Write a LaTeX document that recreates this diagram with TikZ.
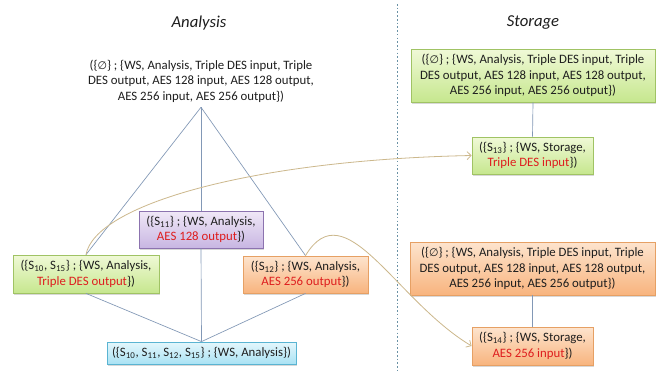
\documentclass[tikz,border=0pt]{standalone}
\usepackage{fontspec}
\setmainfont{Carlito}
\newfontfamily\symfnt{DejaVu Sans}[Scale=0.85]
\usetikzlibrary{shadows,arrows.meta}
\definecolor{linec}{RGB}{130,152,182}
\definecolor{curvec}{RGB}{204,184,140}
\definecolor{redtxt}{RGB}{222,30,30}
\definecolor{txt}{RGB}{30,30,30}
\definecolor{grtop}{RGB}{240,249,215}
\definecolor{grbot}{RGB}{198,231,142}
\definecolor{grbord}{RGB}{160,195,100}
\definecolor{ortop}{RGB}{253,228,206}
\definecolor{orbot}{RGB}{248,180,126}
\definecolor{orbord}{RGB}{230,160,100}
\definecolor{putop}{RGB}{240,232,247}
\definecolor{pubot}{RGB}{200,182,226}
\definecolor{pubord}{RGB}{140,115,175}
\definecolor{bltop}{RGB}{228,247,252}
\definecolor{blbot}{RGB}{170,226,244}
\definecolor{blbord}{RGB}{90,180,210}
\definecolor{dashc}{RGB}{105,145,165}
\newcommand{\emptysetsym}{{\symfnt ∅}}
\newcommand{\Sub}[1]{S\textsubscript{#1}}
\newcommand{\hl}[1]{\textcolor{redtxt}{#1}}
\tikzset{
  box/.style={draw, line width=0.6pt, align=center, inner sep=1pt,
    drop shadow={shadow xshift=0.9pt, shadow yshift=-1.2pt, opacity=0.3}},
  gbox/.style={box, draw=grbord, top color=grtop, bottom color=grbot},
  obox/.style={box, draw=orbord, top color=ortop, bottom color=orbot},
  pbox/.style={box, draw=pubord, top color=putop, bottom color=pubot},
  bbox/.style={box, draw=blbord, top color=bltop, bottom color=blbot},
  conn/.style={draw=linec, line width=0.5pt},
  flow/.style={draw=curvec, line width=0.6pt, -{Straight Barb[length=3pt,width=6pt]}},
  title/.style={font=\fontsize{12.5}{15}\selectfont\itshape},
}
\begin{document}
\begin{tikzpicture}[x=0.75pt, y=-0.75pt, font=\fontsize{9.6}{11.6}\selectfont, text=txt]
\fill[white] (0,0) rectangle (663,371);
\useasboundingbox (0,0) rectangle (663,371);

\coordinate (dtop) at (397,4);
\coordinate (dbot) at (397,371);
\draw[dashc, line width=0.5pt, dash pattern=on 1.2pt off 1.6pt] (dtop) -- (dbot);

\node[title] (tA) at (199,23) {Analysis};
\node[title] (tS) at (533,23) {Storage};

\node[align=center, minimum height=39pt, inner sep=0pt] (top) at (201,81)
  {(\{\emptysetsym\} ; \{WS, Analysis, Triple DES input, Triple\\DES output, AES 128 input, AES 128 output,\\AES 256 input, AES 256 output\})};

\node[gbox, minimum width=109.5pt, minimum height=28.5pt] (s1015) at (86,274)
  {(\{\Sub{10}, \Sub{15}\} ; \{WS, Analysis,\\\hl{Triple DES output}\})};
\node[pbox, minimum width=93pt, minimum height=27.75pt] (s11) at (201,229.5)
  {(\{\Sub{11}\} ; \{WS, Analysis,\\\hl{AES 128 output}\})};
\node[obox, minimum width=93.75pt, minimum height=27.75pt] (s12) at (305.5,274.5)
  {(\{\Sub{12}\} ; \{WS, Analysis,\\\hl{AES 256 output}\})};
\node[bbox, minimum width=141.75pt, minimum height=16.5pt] (all) at (201.5,353)
  {(\{\Sub{10}, \Sub{11}, \Sub{12}, \Sub{15}\} ; \{WS, Analysis\})};

\node[gbox, minimum width=183pt, minimum height=39.75pt] (gtop) at (533,75.5)
  {(\{\emptysetsym\} ; \{WS, Analysis, Triple DES input, Triple\\DES output, AES 128 input, AES 128 output,\\AES 256 input, AES 256 output\})};
\node[gbox, minimum width=90.75pt, minimum height=27.75pt] (s13) at (532.5,155.5)
  {(\{\Sub{13}\} ; \{WS, Storage,\\\hl{Triple DES input}\})};
\node[obox, minimum width=183.75pt, minimum height=39.75pt] (obig) at (532.5,268.5)
  {(\{\emptysetsym\} ; \{WS, Analysis, Triple DES input, Triple\\DES output, AES 128 input, AES 128 output,\\AES 256 input, AES 256 output\})};
\node[obox, minimum width=90.75pt, minimum height=28.5pt] (s14) at (532.5,346)
  {(\{\Sub{14}\} ; \{WS, Storage,\\\hl{AES 256 input}\})};

\path[conn] (top.south) -- (s1015.north);
\path[conn] (top.south) -- (s11.north);
\path[conn] (top.south) -- (s12.north);
\path[conn] (s11.south) -- (all.north);
\path[conn] (s1015.south) -- (all.north);
\path[conn] (s12.south) -- (all.north);
\path[conn] (gtop.south) -- (s13.north);
\path[conn] (obig.south) -- (s14.north);

\path[flow] (s1015.north) .. controls (95,205) and (250,160) .. (s13.west);
\path[flow] (s12.north) .. controls (345,190) and (395,300) .. (s14.west);
\end{tikzpicture}
\end{document}
